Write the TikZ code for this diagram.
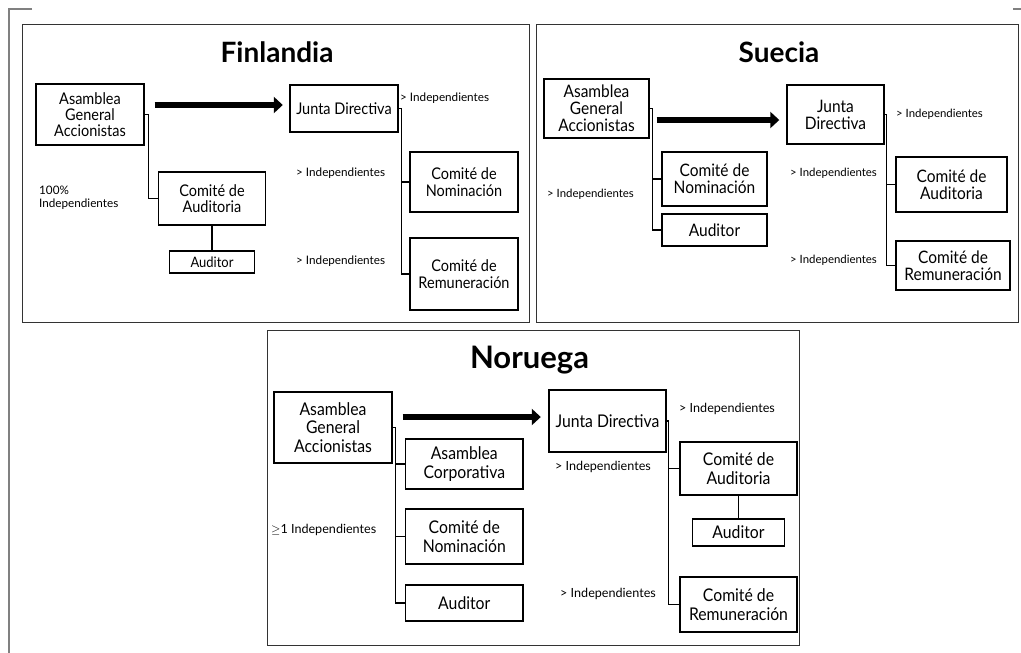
\documentclass[tikz,border=0pt]{standalone}
\usepackage{fontspec}
\setmainfont{Lato}
\newfontfamily\boxfam{Lato}[FakeStretch=0.9]
\usetikzlibrary{arrows.meta,calc}
\begin{document}
\begin{tikzpicture}[x=1pt,y=-1pt,
  box/.style={draw=black, line width=1.4pt, align=center, inner sep=0pt, font=\boxfont},
  panel/.style={draw=black!80, line width=1pt},
  note/.style={anchor=west, inner sep=0pt, font=\notefont},
  title/.style={anchor=base, inner sep=0pt, font=\titlefont},
  link/.style={line width=1.4pt},
  bigarrow/.style={line width=6.5pt, -{Triangle[length=9pt,width=16pt]}},
  frame/.style={draw=black!50, line width=1.5pt}]
\useasboundingbox (0,0) rectangle (1021,653);

% outer frame marks
\draw[frame] (32,9) -- (9,9) -- (9,653);
\draw[frame] (1013,9) -- (1021,9);

% panels
\draw[panel] (22,24) rectangle (529,322);
\draw[panel] (536,24) rectangle (1018,322);
\draw[panel] (267,330) rectangle (799,645);

% ---------------- Finlandia ----------------
\begin{scope}
\def\boxfont{\boxfam\fontsize{16.1}{16.3}\selectfont}
\def\notefont{\fontsize{11.7}{13}\selectfont}
\def\titlefont{\fontsize{28}{30}\selectfont\bfseries}
\node[title] (ft) at (277,62.5) {Finlandia};
\node[box, minimum width=108pt, minimum height=61pt] (fa) at (90,114.5) {Asamblea\\General\\Accionistas};
\node[box, minimum width=108pt, minimum height=47pt] (fj) at (344,108.5) {Junta Directiva};
\node[box, minimum width=107pt, minimum height=53pt] (fca) at (212,198.5) {Comité de\\Auditoria};
\node[box, minimum width=85pt, minimum height=22pt, font=\boxfam\fontsize{14.4}{15}\selectfont] (fau) at (212,262) {Auditor};
\node[box, minimum width=108pt, minimum height=60pt] (fn) at (464,182) {Comité de\\Nominación};
\node[box, minimum width=108pt, minimum height=72pt] (fr) at (464,274) {Comité de\\Remuneración};
\node[note] (fi1) at (400,98) {> Independientes};
\node[note] (fi2) at (296,173) {> Independientes};
\node[note] (fi3) at (296,261) {> Independientes};
\node[note, align=left] (fi4) at (39,197.5) {100\%\\Independientes};
\draw[link] (fa.east) -- ++(4,0) |- (fca.west);
\draw[link] (fj.east) -- ++(2.5,0) |- (fn.west);
\draw[link] (fj.east) -- ++(2.5,0) |- (fr.west);
\draw[link] (fca.south) -- (fau.north);
\draw[bigarrow] ($(fa.east)+(10,-9.5)$) -- ($(fj.west)+(-6.5,-3.5)$);
\end{scope}

% ---------------- Suecia ----------------
\begin{scope}
\def\boxfont{\boxfam\fontsize{17.2}{17}\selectfont}
\def\notefont{\fontsize{11.4}{13}\selectfont}
\def\titlefont{\fontsize{28}{30}\selectfont\bfseries}
\node[title] (st) at (779,62) {Suecia};
\node[box, minimum width=105pt, minimum height=59pt] (sa) at (596.5,108.5) {Asamblea\\General\\Accionistas};
\node[box, minimum width=97pt, minimum height=59pt] (sj) at (835.5,114.5) {Junta\\Directiva};
\node[box, minimum width=105pt, minimum height=54pt] (sn) at (714.5,179) {Comité de\\Nominación};
\node[box, minimum width=105pt, minimum height=32pt] (sau) at (714.5,230) {Auditor};
\node[box, minimum width=111pt, minimum height=55pt] (sca) at (951.5,184.5) {Comité de\\Auditoria};
\node[box, minimum width=114pt, minimum height=49pt] (sr) at (953,265.5) {Comité de\\Remuneración};
\node[note] (si1) at (896,114) {> Independientes};
\node[note] (si2) at (547,194) {> Independientes};
\node[note] (si3) at (790,173) {> Independientes};
\node[note] (si4) at (790,260) {> Independientes};
\draw[link] (sa.east) -- ++(3,0) |- (sn.west);
\draw[link] (sa.east) -- ++(3,0) |- (sau.west);
\draw[link] (sj.east) -- ++(2,0) |- (sca.west);
\draw[link] (sj.east) -- ++(2,0) |- (sr.west);
\draw[bigarrow] ($(sa.east)+(7,11.5)$) -- ($(sj.west)+(-7,5.5)$);
\end{scope}

% ---------------- Noruega ----------------
\begin{scope}
\def\boxfont{\boxfam\fontsize{17.5}{18.3}\selectfont}
\def\notefont{\fontsize{12.6}{14}\selectfont}
\def\titlefont{\fontsize{31}{33}\selectfont\bfseries}
\node[title] (nt) at (529.5,368) {Noruega};
\node[box, minimum width=118pt, minimum height=71pt] (na) at (333,427.5) {Asamblea\\General\\Accionistas};
\node[box, minimum width=117pt, minimum height=62pt] (nj) at (607.5,421) {Junta Directiva};
\node[box, minimum width=117.4pt, minimum height=50pt] (nac) at (464.3,464) {Asamblea\\Corporativa};
\node[box, minimum width=117.4pt, minimum height=55pt] (nn) at (464.3,536.5) {Comité de\\Nominación};
\node[box, minimum width=117.4pt, minimum height=36pt] (nau) at (464.3,603) {Auditor};
\node[box, minimum width=117pt, minimum height=53pt] (nca) at (738.5,468.5) {Comité de\\Auditoria};
\node[box, minimum width=92pt, minimum height=27pt] (nau2) at (738.5,532.5) {Auditor};
\node[box, minimum width=117pt, minimum height=55pt] (nr) at (738.5,604.5) {Comité de\\Remuneración};
\node[note] (ni1) at (679,409) {> Independientes};
\node[note] (ni2) at (555,467) {> Independientes};
\node[note] (ni3) at (560,594) {> Independientes};
\node[note] (ni4) at (271,530) {$\geq$1 Independientes};
\draw[link] (na.east) -- ++(2.5,0) |- (nac.west);
\draw[link] (na.east) -- ++(2.5,0) |- (nn.west);
\draw[link] (na.east) -- ++(2.5,0) |- (nau.west);
\draw[link] (nj.east) -- ++(2,0) |- (nca.west);
\draw[link] (nj.east) -- ++(2,0) |- (nr.west);
\draw[link] (nca.south) -- (nau2.north);
\draw[bigarrow] ($(na.east)+(10,-10.5)$) -- ($(nj.west)+(-7.5,-4)$);
\end{scope}
\end{tikzpicture}
\end{document}
